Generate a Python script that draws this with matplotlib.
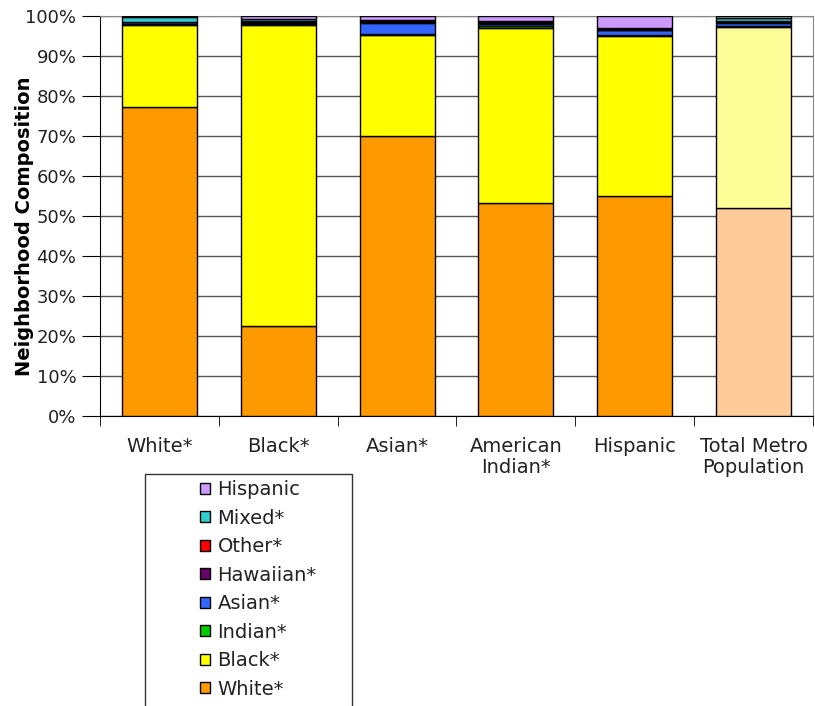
import numpy as np
import matplotlib.pyplot as plt
from matplotlib.patches import Patch, Rectangle

# sastav susjedstva po grupama (postotak)
categories = ['White*', 'Black*', 'Asian*', 'American\nIndian*', 'Hispanic', 'Total Metro\nPopulation']
series = ['White*', 'Black*', 'Indian*', 'Asian*', 'Hawaiian*', 'Other*', 'Mixed*', 'Hispanic']

white    = [77.3, 22.5, 70.0, 53.3, 55.0, 52.0]
black    = [20.5, 75.3, 25.2, 43.6, 40.1, 45.3]
indian   = [0.2, 0.2, 0.2, 0.5, 0.2, 0.3]
asian    = [0.4, 0.3, 2.9, 0.6, 1.1, 0.6]
hawaiian = [0.1, 0.2, 0.2, 0.2, 0.2, 0.2]
other    = [0.1, 0.3, 0.2, 0.2, 0.2, 0.4]
mixed    = [1.2, 0.4, 0.3, 0.3, 0.3, 0.6]
hispanic = [0.2, 0.8, 1.0, 1.3, 2.9, 0.6]

values = [white, black, indian, asian, hawaiian, other, mixed, hispanic]
colors = ['#ff9900', '#ffff00', '#00cc00', '#3366ff', '#660066', '#ff0000', '#33cccc', '#cc99ff']
# ukupna populacija ima svjetlije boje
total_colors = ['#ffcc99', '#ffff99', '#00cc00', '#3366ff', '#660066', '#ff0000', '#33cccc', '#c0c0c0']

plt.rcParams['font.family'] = 'DejaVu Sans'
fig = plt.figure(figsize=(8.15, 7.06), dpi=100)
ax = fig.add_axes([100/815, 1-416/706, 713/815, 400/706])

x = np.arange(len(categories))
bottom = np.zeros(len(categories))
for k, vals in enumerate(values):
    cols = [colors[k]]*(len(categories)-1) + [total_colors[k]]
    ax.bar(x, vals, bottom=bottom, width=0.63, color=cols, edgecolor='black', linewidth=1, zorder=3)
    bottom += np.array(vals)

ax.set_xlim(-0.5, len(categories)-0.5)
ax.set_ylim(0, 100)
ax.set_yticks(np.arange(0, 101, 10))
ax.set_yticklabels([f'{v}%' for v in range(0, 101, 10)], fontsize=13, color='#222222')
ax.set_xticks(x)
ax.set_xticklabels(categories, fontsize=14, color='#222222', linespacing=1.15)
ax.set_xticks(np.arange(-0.5, len(categories), 1), minor=True)
ax.tick_params(axis='x', which='major', length=0, pad=15)
ax.tick_params(axis='x', which='minor', length=7, direction='out', color='black')
ax.tick_params(axis='y', length=13, direction='out', color='black', pad=4)
ax.yaxis.grid(True, color='#555555', lw=1, zorder=0)

for s in ['top', 'right']:
    ax.spines[s].set_color('#888888')
for s in ['left', 'bottom']:
    ax.spines[s].set_color('black')

ax.set_ylabel('Neighborhood Composition', fontsize=14, fontweight='bold')
ax.yaxis.set_label_coords(-0.093, 0.475)

# okvir legende (donji dio izlazi izvan slike)
fig.patches.append(Rectangle((145/815, -0.05), 207/815, 1-474/706+0.05, transform=fig.transFigure,
                             facecolor='white', edgecolor='#333333', lw=1))

handles = [Patch(facecolor=colors[k], edgecolor='black', label=series[k]) for k in range(len(series)-1, -1, -1)]
leg = fig.legend(handles=handles, loc='upper left', bbox_to_anchor=(200/815, 1-480/706),
                 fontsize=14, frameon=False,
                 handlelength=0.5, handleheight=0.5, handletextpad=0.4, labelspacing=0.49,
                 borderpad=0.0, borderaxespad=0)
for t in leg.get_texts():
    t.set_color('#222222')

plt.savefig('out.png')
